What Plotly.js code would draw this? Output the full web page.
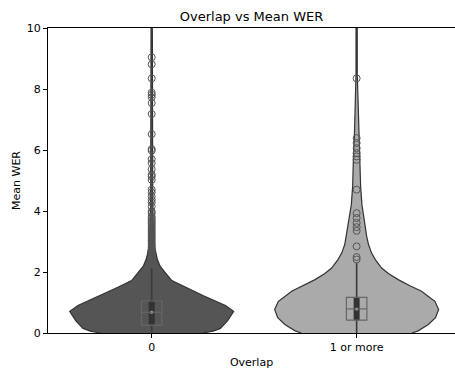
<!DOCTYPE html>
<html>
<head>
<meta charset="utf-8">
<script src="https://cdn.plot.ly/plotly-3.0.1.min.js"></script>
<style>html,body{margin:0;padding:0;background:#fff;}#chart{width:455px;height:370px;}</style>
</head>
<body>
<div id="chart"></div>
<script>
// Categories
const categories = ['0', '1 or more'];

// Violin outlines: value (Mean WER) and half-width (density, scaled)
const violin0Y  = [0.0, 0.06, 0.15, 0.4, 0.71, 0.9, 1.23, 1.5, 1.72, 1.95, 2.19, 2.4, 2.57, 2.8, 3.2, 3.6, 4.5, 6.0, 8.0, 10.5];
const violin0HW = [0.25, 0.30, 0.335, 0.37, 0.40, 0.36, 0.25, 0.165, 0.098, 0.07, 0.041, 0.028, 0.021, 0.015, 0.01, 0.007, 0.005, 0.004, 0.003, 0.003];
const violin1Y  = [0.0, 0.07, 0.28, 0.5, 0.77, 1.04, 1.2, 1.37, 1.55, 1.75, 1.95, 2.13, 2.4, 2.62, 2.9, 3.17, 3.71, 4.2, 4.8, 5.9, 6.44, 7.0, 7.6, 8.5, 10.5];
const violin1HW = [0.27, 0.30, 0.35, 0.385, 0.40, 0.382, 0.35, 0.317, 0.26, 0.203, 0.155, 0.122, 0.092, 0.073, 0.058, 0.049, 0.037, 0.026, 0.0195, 0.015, 0.011, 0.008, 0.005, 0.003, 0.003];

// Box statistics
const q1       = [0.26, 0.42];
const medians  = [0.68, 0.79];
const q3       = [1.05, 1.17];
const whiskLo  = [0.0, 0.0];
const whiskHi  = [2.13, 2.30];

// Outliers
const outliers0 = [9.04, 8.81, 8.35, 7.88, 7.81, 7.73, 7.54, 7.18, 6.52, 6.03, 5.98, 5.70, 5.57, 5.37, 5.19, 5.13, 5.02, 4.70, 4.61, 4.48, 4.37, 4.28, 4.15, 3.99, 3.93, 3.82,
  3.76, 3.70, 3.64, 3.58, 3.52, 3.46, 3.40, 3.34, 3.28, 3.22, 3.16, 3.10, 3.04, 2.98, 2.92, 2.86, 2.80, 2.74, 2.68, 2.62, 2.56, 2.50, 2.44, 2.38];
const outliers1 = [8.35, 6.39, 6.23, 6.06, 5.90, 5.79, 5.68, 4.70, 3.93, 3.77, 3.61, 3.47, 3.35, 2.84, 2.49, 2.41];

const fills = ['#555555', '#aaaaaa'];
const edge = '#333333';
const boxWidth = 0.1;

const violins = [[violin0Y, violin0HW], [violin1Y, violin1HW]];
const outliers = [outliers0, outliers1];
const traces = [];

violins.forEach(([ys, hws], i) => {
  const xs = [], yy = [];
  for (let k = 0; k < ys.length; k++) { xs.push(i + hws[k]); yy.push(ys[k]); }
  for (let k = ys.length - 1; k >= 0; k--) { xs.push(i - hws[k]); yy.push(ys[k]); }
  traces.push({type: 'scatter', mode: 'lines', x: xs, y: yy, fill: 'toself',
    fillcolor: fills[i], line: {color: edge, width: 1.2}, hoverinfo: 'skip', showlegend: false});
});

categories.forEach((c, i) => {
  // inner whisker
  traces.push({type: 'scatter', mode: 'lines', x: [i, i], y: [whiskLo[i], whiskHi[i]],
    line: {color: '#3a3a3a', width: 1.6}, hoverinfo: 'skip', showlegend: false});
  // inner thick bar
  traces.push({type: 'scatter', mode: 'lines', x: [i, i], y: [q1[i], q3[i]],
    line: {color: '#333333', width: 6}, hoverinfo: 'skip', showlegend: false});
  // inner median dot
  traces.push({type: 'scatter', mode: 'markers', x: [i], y: [medians[i]],
    marker: {symbol: 'circle', size: 3, color: '#bbbbbb'}, hoverinfo: 'skip', showlegend: false});
  // overlay box
  const l = i - boxWidth / 2, r = i + boxWidth / 2;
  traces.push({type: 'scatter', mode: 'lines',
    x: [l, r, r, l, l, null, l, r], y: [q1[i], q1[i], q3[i], q3[i], q1[i], null, medians[i], medians[i]],
    line: {color: '#666666', width: 1.2}, hoverinfo: 'skip', showlegend: false});
  // outliers
  traces.push({type: 'scatter', mode: 'markers', x: outliers[i].map(() => i), y: outliers[i],
    marker: {symbol: 'circle-open', size: 7, color: '#555555', line: {width: 1}},
    hoverinfo: 'skip', showlegend: false});
});

const font = 'DejaVu Sans, sans-serif';
const layout = {
  width: 455, height: 370,
  margin: {l: 48, r: 0, t: 28, b: 37},
  paper_bgcolor: '#ffffff', plot_bgcolor: '#ffffff',
  font: {family: font, size: 11, color: '#000'},
  title: {text: 'Overlap vs Mean WER', font: {family: font, size: 13, color: '#000'}, x: 0.5, xref: 'paper', y: 0.955, yref: 'container', yanchor: 'middle'},
  xaxis: {range: [-0.506, 1.48], tickvals: [0, 1], ticktext: categories, showgrid: false, zeroline: false,
    showline: true, linecolor: '#000', linewidth: 1, mirror: true, ticks: 'outside', ticklen: 4, tickcolor: '#000',
    title: {text: 'Overlap', font: {family: font, size: 11}, standoff: 5}},
  yaxis: {range: [0, 10], tickvals: [0, 2, 4, 6, 8, 10], showgrid: false, zeroline: false,
    showline: true, linecolor: '#000', linewidth: 1, ticks: 'outside', ticklen: 4, tickcolor: '#000',
    title: {text: 'Mean WER', font: {family: font, size: 11}, standoff: 3}}
};

Plotly.newPlot('chart', traces, layout, {staticPlot: true, displayModeBar: false});
</script>
</body>
</html>
